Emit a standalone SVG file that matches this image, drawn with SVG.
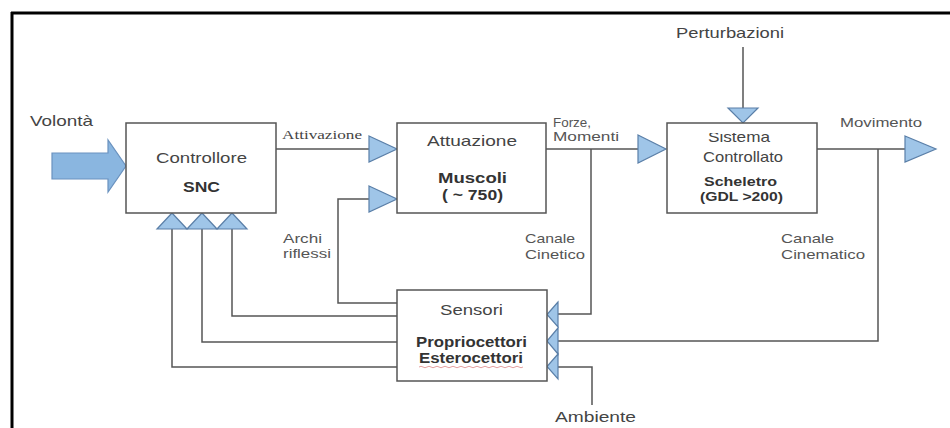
<svg xmlns="http://www.w3.org/2000/svg" width="950" height="428" viewBox="0 0 950 428">
<style>
  .box{fill:#ffffff;stroke:#555555;stroke-width:1.5}
  .ln{fill:none;stroke:#555555;stroke-width:1.5}
  .tri{fill:#9fc5e8;stroke:#5a7fa8;stroke-width:1.2}
  .t{font-family:"Liberation Sans",Arial,sans-serif;fill:#444444;font-size:15px}
  .b{font-family:"Liberation Sans",Arial,sans-serif;fill:#333333;font-size:15px;font-weight:bold}
  .s{font-family:"Liberation Serif","Times New Roman",serif;fill:#444444;font-size:12px}
  .sm{font-family:"Liberation Sans",Arial,sans-serif;fill:#555555;font-size:13px}
</style>
<defs>
  <clipPath id="clipSis"><rect x="660" y="133" width="170" height="30"/></clipPath>
</defs>
<rect x="0" y="0" width="950" height="428" fill="#ffffff"/>
<g id="frame">
  <path d="M11,13 H950" stroke="#000" stroke-width="3" fill="none"/>
  <path d="M12,12 V428" stroke="#000" stroke-width="3" fill="none"/>
</g>

<g id="connectors">
  <path class="ln" d="M276,149 H369"/>
  <path class="ln" d="M397,303 H338 V199 H369"/>
  <path class="ln" d="M546,149 H638"/>
  <path class="ln" d="M591,149 V314 H558"/>
  <path class="ln" d="M817,149 H905"/>
  <path class="ln" d="M878,149 V341 H558"/>
  <path class="ln" d="M592,405 V367 H558"/>
  <path class="ln" d="M743,47 V108"/>
  <path class="ln" d="M397,316 H232 V229"/>
  <path class="ln" d="M397,342 H202 V229"/>
  <path class="ln" d="M397,367 H172 V229"/>
  <polygon points="52,153 108,153 108,140 126,166 108,192 108,179 52,179" fill="#8ab6e0" stroke="#6a92bf" stroke-width="1.2"/>
  <polygon class="tri" points="369,136 397,149 369,162"/>
  <polygon class="tri" points="369,186 397,199 369,212"/>
  <polygon class="tri" points="638,135 666,149 638,163"/>
  <polygon class="tri" points="905,136 936,149 905,162"/>
  <polygon class="tri" points="728,108 758,108 743,123"/>
  <polygon class="tri" points="157,229 187,229 172,213"/>
  <polygon class="tri" points="187,229 217,229 202,213"/>
  <polygon class="tri" points="217,229 247,229 232,213"/>
  <polygon class="tri" points="558,302 547,314.5 558,327"/>
  <polygon class="tri" points="558,328 547,341 558,354"/>
  <polygon class="tri" points="558,354 547,366.5 558,379"/>
  <text class="t" x="30" y="126" textLength="63" lengthAdjust="spacingAndGlyphs">Volontà</text>
  <text class="s" x="282" y="139" textLength="80" lengthAdjust="spacingAndGlyphs">Attivazione</text>
  <text class="sm" x="553" y="127" textLength="38" lengthAdjust="spacingAndGlyphs">Forze,</text>
  <text class="sm" x="553" y="141" textLength="66" lengthAdjust="spacingAndGlyphs">Momenti</text>
  <text class="t" x="676" y="38" textLength="108" lengthAdjust="spacingAndGlyphs">Perturbazioni</text>
  <text class="sm" x="840" y="127" textLength="82" lengthAdjust="spacingAndGlyphs">Movimento</text>
  <text class="sm" x="283" y="243" textLength="39" lengthAdjust="spacingAndGlyphs">Archi</text>
  <text class="sm" x="283" y="258" textLength="48" lengthAdjust="spacingAndGlyphs">riflessi</text>
  <text class="sm" x="525" y="243" textLength="50" lengthAdjust="spacingAndGlyphs">Canale</text>
  <text class="sm" x="525" y="259" textLength="60" lengthAdjust="spacingAndGlyphs">Cinetico</text>
  <text class="sm" x="781" y="243" textLength="53" lengthAdjust="spacingAndGlyphs">Canale</text>
  <text class="sm" x="781" y="259" textLength="84" lengthAdjust="spacingAndGlyphs">Cinematico</text>
  <text class="t" x="555" y="422" textLength="81" lengthAdjust="spacingAndGlyphs">Ambiente</text>
</g>

<g id="controllore">
  <rect class="box" x="126" y="123" width="150" height="90"/>
  <text class="t" x="156" y="163" textLength="91" lengthAdjust="spacingAndGlyphs">Controllore</text>
  <text class="b" x="183" y="192" textLength="37" lengthAdjust="spacingAndGlyphs">SNC</text>
</g>

<g id="attuazione">
  <rect class="box" x="397" y="123" width="149" height="90"/>
  <text class="t" x="427" y="146" textLength="90" lengthAdjust="spacingAndGlyphs">Attuazione</text>
  <text class="b" x="438" y="183" textLength="69" lengthAdjust="spacingAndGlyphs">Muscoli</text>
  <text class="b" x="442" y="200" textLength="61" lengthAdjust="spacingAndGlyphs">( ~ 750)</text>
</g>

<g id="sistema">
  <rect class="box" x="667" y="123" width="150" height="90"/>
  <text class="t" x="708" y="142" textLength="62" lengthAdjust="spacingAndGlyphs" clip-path="url(#clipSis)">Sistema</text>
  <text class="t" x="703" y="162" textLength="80" lengthAdjust="spacingAndGlyphs">Controllato</text>
  <text class="b" x="704" y="186" textLength="73" lengthAdjust="spacingAndGlyphs" style="font-size:13px">Scheletro</text>
  <text class="b" x="700" y="201" textLength="83" lengthAdjust="spacingAndGlyphs" style="font-size:13px">(GDL &gt;200)</text>
</g>

<g id="sensori">
  <rect class="box" x="397" y="290" width="150" height="91"/>
  <text class="t" x="440" y="315" textLength="63" lengthAdjust="spacingAndGlyphs">Sensori</text>
  <text class="b" x="416" y="347" textLength="111" lengthAdjust="spacingAndGlyphs" style="font-size:14px">Propriocettori</text>
  <text class="b" x="419" y="363" textLength="104" lengthAdjust="spacingAndGlyphs" style="font-size:14px">Esterocettori</text>
  <path d="M419,367 q2,-1.5 4,0 t4,0 t4,0 t4,0 t4,0 t4,0 t4,0 t4,0 t4,0 t4,0 t4,0 t4,0 t4,0 t4,0 t4,0 t4,0 t4,0 t4,0 t4,0 t4,0 t4,0 t4,0 t4,0 t4,0 t4,0 t4,0" fill="none" stroke="#d88" stroke-width="0.8"/>
</g>
</svg>
